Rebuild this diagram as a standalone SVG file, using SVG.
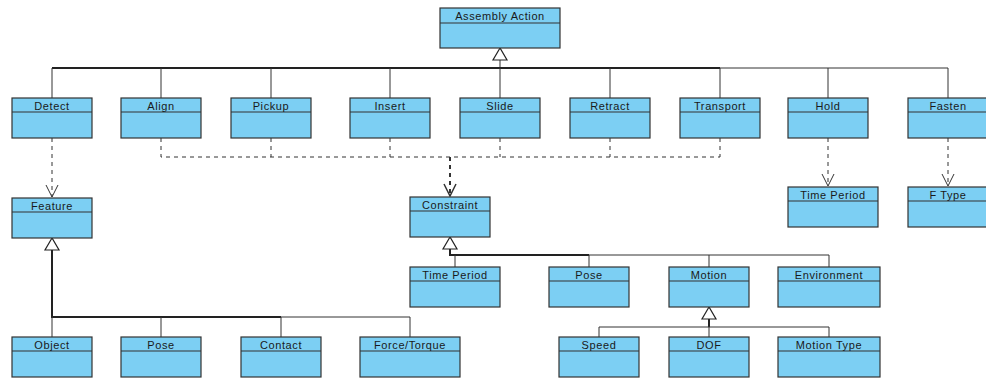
<svg xmlns="http://www.w3.org/2000/svg" width="986" height="379" viewBox="0 0 986 379">
  <style>
    .box rect { fill: #7ccff3; stroke: #333; stroke-width: 1.2; }
    .box line { stroke: #333; stroke-width: 1.2; }
    .box text { font-family: "Liberation Sans", Arial, sans-serif; font-size: 11px; fill: #1a1a1a; text-anchor: middle; letter-spacing: 0.6px; }
    .gen { fill: none; stroke: #333; stroke-width: 1; }
    .bus { fill: none; stroke: #222; stroke-width: 2; }
    .dep { fill: none; stroke: #333; stroke-width: 1; stroke-dasharray: 4 4; }
    .tri { fill: #fff; stroke: #222; stroke-width: 1.2; }
    .open { fill: none; stroke: #333; stroke-width: 1; }
  </style>

  <g id="connectors">
    <!-- Assembly Action generalization tree -->
    <path class="gen" d="M500 60 V68"/>
    <path class="bus" d="M52 68 H720"/>
    <path class="gen" d="M720 68 H948"/>
    <path class="gen" d="M52 68 V98 M161 68 V98 M271 68 V98 M390 68 V98 M500 68 V98 M610 68 V98 M720 68 V98 M828 68 V98 M948 68 V98"/>
    <polygon class="tri" points="500,48 493,60 507,60"/>

    <!-- dependencies -->
    <path class="dep" d="M52 138 V197"/>
    <path class="open" d="M46 185 L52 197 L58 185"/>
    <path class="dep" d="M161 138 V157 H720 M271 138 V157 M390 138 V157 M500 138 V157 M610 138 V157 M720 138 V157"/>
    <path class="dep" d="M450 157 V196" style="stroke-width:2"/>
    <path class="open" d="M444 184 L450 196 L456 184" style="stroke-width:1.5"/>
    <path class="dep" d="M828 138 V186"/>
    <path class="open" d="M822 174 L828 186 L834 174"/>
    <path class="dep" d="M948 138 V186"/>
    <path class="open" d="M942 174 L948 186 L954 174"/>

    <!-- Feature generalization tree -->
    <path class="bus" d="M52 250 V317 H281"/>
    <path class="gen" d="M281 317 H410 M52 317 V337 M161 317 V337 M281 317 V337 M410 317 V337"/>
    <polygon class="tri" points="52,238 45,250 59,250"/>

    <!-- Constraint generalization tree -->
    <path class="bus" d="M450 249 V255 H589"/>
    <path class="gen" d="M589 255 H829 M455 255 V267 M589 255 V267 M709 255 V267 M829 255 V267"/>
    <polygon class="tri" points="450,237 443,249 457,249"/>

    <!-- Motion generalization tree -->
    <path class="bus" d="M709 319 V327"/>
    <path class="gen" d="M599 327 H829 M599 327 V337 M709 327 V337 M829 327 V337"/>
    <polygon class="tri" points="709,307 702,319 716,319"/>
  </g>

  <g id="assembly-action" class="box"><rect x="440" y="8" width="120" height="40"/><line x1="440" y1="23" x2="560" y2="23"/><text x="500" y="19.5">Assembly Action</text></g>

  <g id="detect" class="box"><rect x="12" y="98" width="80" height="40"/><line x1="12" y1="112" x2="92" y2="112"/><text x="52" y="109.5">Detect</text></g>
  <g id="align" class="box"><rect x="121" y="98" width="80" height="40"/><line x1="121" y1="112" x2="201" y2="112"/><text x="161" y="109.5">Align</text></g>
  <g id="pickup" class="box"><rect x="231" y="98" width="80" height="40"/><line x1="231" y1="112" x2="311" y2="112"/><text x="271" y="109.5">Pickup</text></g>
  <g id="insert" class="box"><rect x="350" y="98" width="80" height="40"/><line x1="350" y1="112" x2="430" y2="112"/><text x="390" y="109.5">Insert</text></g>
  <g id="slide" class="box"><rect x="460" y="98" width="80" height="40"/><line x1="460" y1="112" x2="540" y2="112"/><text x="500" y="109.5">Slide</text></g>
  <g id="retract" class="box"><rect x="570" y="98" width="80" height="40"/><line x1="570" y1="112" x2="650" y2="112"/><text x="610" y="109.5">Retract</text></g>
  <g id="transport" class="box"><rect x="680" y="98" width="80" height="40"/><line x1="680" y1="112" x2="760" y2="112"/><text x="720" y="109.5">Transport</text></g>
  <g id="hold" class="box"><rect x="788" y="98" width="80" height="40"/><line x1="788" y1="112" x2="868" y2="112"/><text x="828" y="109.5">Hold</text></g>
  <g id="fasten" class="box"><rect x="908" y="98" width="80" height="40"/><line x1="908" y1="112" x2="988" y2="112"/><text x="948" y="109.5">Fasten</text></g>

  <g id="feature" class="box"><rect x="12" y="198" width="80" height="40"/><line x1="12" y1="212" x2="92" y2="212"/><text x="52" y="209.5">Feature</text></g>
  <g id="constraint" class="box"><rect x="410" y="197" width="80" height="40"/><line x1="410" y1="211" x2="490" y2="211"/><text x="450" y="208.5">Constraint</text></g>
  <g id="hold-time-period" class="box"><rect x="788" y="187" width="90" height="40"/><line x1="788" y1="201" x2="878" y2="201"/><text x="833" y="198.5">Time Period</text></g>
  <g id="f-type" class="box"><rect x="908" y="187" width="90" height="40"/><line x1="908" y1="201" x2="998" y2="201"/><text x="948" y="198.5">F Type</text></g>

  <g id="constraint-time-period" class="box"><rect x="410" y="267" width="90" height="40"/><line x1="410" y1="281" x2="500" y2="281"/><text x="455" y="278.5">Time Period</text></g>
  <g id="constraint-pose" class="box"><rect x="549" y="267" width="80" height="40"/><line x1="549" y1="281" x2="629" y2="281"/><text x="589" y="278.5">Pose</text></g>
  <g id="motion" class="box"><rect x="669" y="267" width="80" height="40"/><line x1="669" y1="281" x2="749" y2="281"/><text x="709" y="278.5">Motion</text></g>
  <g id="environment" class="box"><rect x="778" y="267" width="102" height="40"/><line x1="778" y1="281" x2="880" y2="281"/><text x="829" y="278.5">Environment</text></g>

  <g id="object" class="box"><rect x="12" y="337" width="80" height="40"/><line x1="12" y1="351" x2="92" y2="351"/><text x="52" y="348.5">Object</text></g>
  <g id="feature-pose" class="box"><rect x="121" y="337" width="80" height="40"/><line x1="121" y1="351" x2="201" y2="351"/><text x="161" y="348.5">Pose</text></g>
  <g id="contact" class="box"><rect x="241" y="337" width="80" height="40"/><line x1="241" y1="351" x2="321" y2="351"/><text x="281" y="348.5">Contact</text></g>
  <g id="force-torque" class="box"><rect x="360" y="337" width="100" height="40"/><line x1="360" y1="351" x2="460" y2="351"/><text x="410" y="348.5">Force/Torque</text></g>

  <g id="speed" class="box"><rect x="559" y="337" width="80" height="40"/><line x1="559" y1="351" x2="639" y2="351"/><text x="599" y="348.5">Speed</text></g>
  <g id="dof" class="box"><rect x="669" y="337" width="80" height="40"/><line x1="669" y1="351" x2="749" y2="351"/><text x="709" y="348.5">DOF</text></g>
  <g id="motion-type" class="box"><rect x="778" y="337" width="102" height="40"/><line x1="778" y1="351" x2="880" y2="351"/><text x="829" y="348.5">Motion Type</text></g>
</svg>
